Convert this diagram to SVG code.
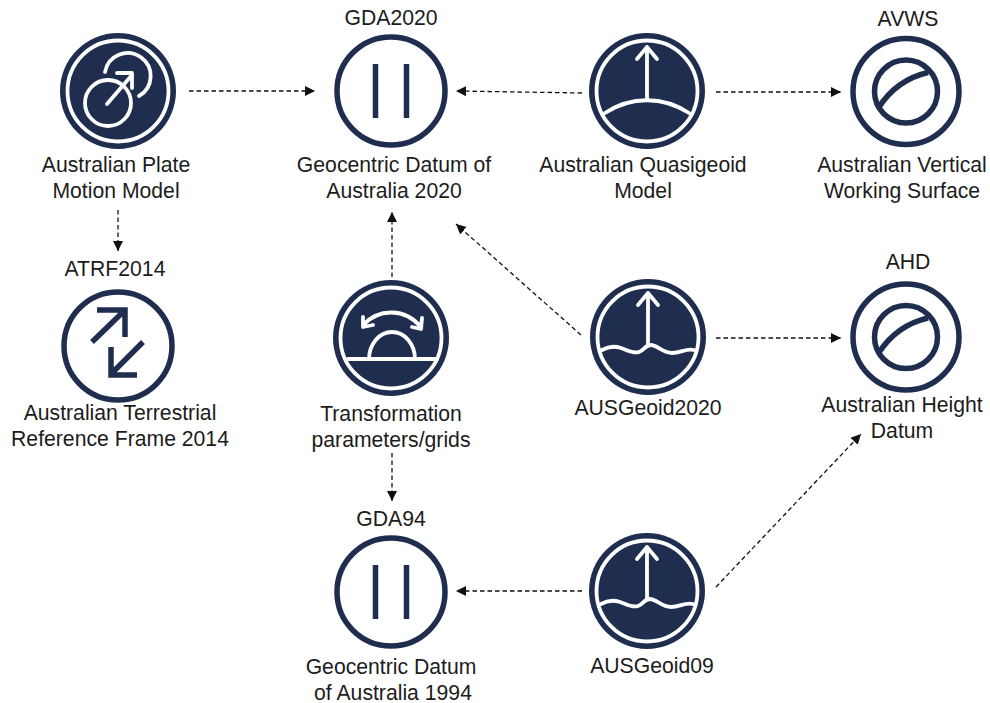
<svg xmlns="http://www.w3.org/2000/svg" width="990" height="703" viewBox="0 0 990 703">
<style>
text{font-family:"Liberation Sans",Arial,sans-serif;font-size:21.2px;fill:#1c1c1c;text-anchor:middle}
.d{fill:#1f2d4f}
.w{fill:none;stroke:#fff;stroke-width:3.8;stroke-linecap:round;stroke-linejoin:round}
.n{fill:none;stroke:#1f2d4f;stroke-width:5.5}
.c{fill:none;stroke:#111;stroke-width:1.3;stroke-dasharray:4.5 3;marker-end:url(#a)}
</style>
<defs>
<marker id="a" markerUnits="userSpaceOnUse" markerWidth="12" markerHeight="12" refX="10" refY="6" orient="auto"><path d="M0 1L10 6L0 11z" fill="#111"/></marker>
<g id="dark"><circle r="58" class="d"/><circle r="50.5" class="w"/></g>
<g id="ring"><circle r="54" class="n"/></g>
<g id="bars"><use href="#ring"/><path d="M-15.500 -27V27M15.500 -27V27" class="n"/></g>
<g id="ball"><circle r="53" class="n"/><circle r="31.500" class="n"/><path d="M-28 17C-16 -2 0 -14 22 -19" class="n"/></g>
<g id="geoid"><use href="#dark"/><path d="M0 -44V8M-10 -32L0 -44L10 -32" class="w"/><path d="M-46 13C-39 9 -33 9 -27 11S-15 17 -9 15S-3 8 3 8S15 16 24 16S38 11 46 13" class="w"/></g>
</defs>
<g id="connectors">
<path class="c" d="M189 91H315"/>
<path class="c" d="M582 93L456 91"/>
<path class="c" d="M716 92H841"/>
<path class="c" d="M118 210V251"/>
<path class="c" d="M392 277V212"/>
<path class="c" d="M581 335L456 224"/>
<path class="c" d="M716 338H841"/>
<path class="c" d="M392 453V501"/>
<path class="c" d="M582 591H456"/>
<path class="c" d="M716 587L861 434"/>
</g>
<g id="plate" transform="translate(118 91)"><use href="#dark"/><circle cx="-10" cy="12" r="23" class="w"/><path d="M-11 13L14 -16M-1 -18H14V-3" class="w"/><path d="M-13 -19A23 23 0 1 1 21 5" class="w"/>
<text x="-2" y="81">Australian Plate</text><text x="-2" y="107">Motion Model</text></g>
<g id="gda2020" transform="translate(391 91)"><use href="#bars"/><text y="-66">GDA2020</text><text x="3" y="81">Geocentric Datum of</text><text x="3" y="107">Australia 2020</text></g>
<g id="quasi" transform="translate(647 91)"><use href="#dark"/><path d="M0 -44V9M-10 -32L0 -44L10 -32" class="w"/><path d="M-42 22C-16 5 16 5 42 22" class="w"/><text x="-4" y="81">Australian Quasigeoid</text><text x="-4" y="107">Model</text></g>
<g id="avws" transform="translate(906 91.500)"><use href="#ball"/><text x="2" y="-66">AVWS</text><text x="-4" y="80">Australian Vertical</text><text x="-4" y="106">Working Surface</text></g>
<g id="atrf" transform="translate(118 346)"><use href="#ring"/><path d="M-21 -36H7V-9M-26 -4L4 -33M-7 1V29H19M25 -4L-5 26" class="n"/>
<text x="-3" y="-70">ATRF2014</text><text x="2" y="74">Australian Terrestrial</text><text x="2" y="100">Reference Frame 2014</text></g>
<g id="transform" transform="translate(391 338)"><use href="#dark"/><path d="M-28 -13C-12 -30 14 -30 30 -11M-28 -21L-28 -11L-18 -13M31 -20L30 -9L21 -11" class="w"/><path d="M-22 21A23 27 0 0 1 24 21" class="w"/><path d="M-43 21H46" class="w"/><text y="83">Transformation</text><text y="109">parameters/grids</text></g>
<g id="ausgeoid2020" transform="translate(648 337)"><use href="#geoid"/><text y="78">AUSGeoid2020</text></g>
<g id="ahd" transform="translate(906 337)"><use href="#ball"/><text x="2" y="-68">AHD</text><text x="-4" y="75">Australian Height</text><text x="-4" y="101">Datum</text></g>
<g id="gda94" transform="translate(391 592)"><use href="#bars"/><text y="-66">GDA94</text><text y="82">Geocentric Datum</text><text x="2" y="108">of Australia 1994</text></g>
<g id="ausgeoid09" transform="translate(647 591)"><use href="#geoid"/><text x="5" y="82">AUSGeoid09</text></g>
</svg>
